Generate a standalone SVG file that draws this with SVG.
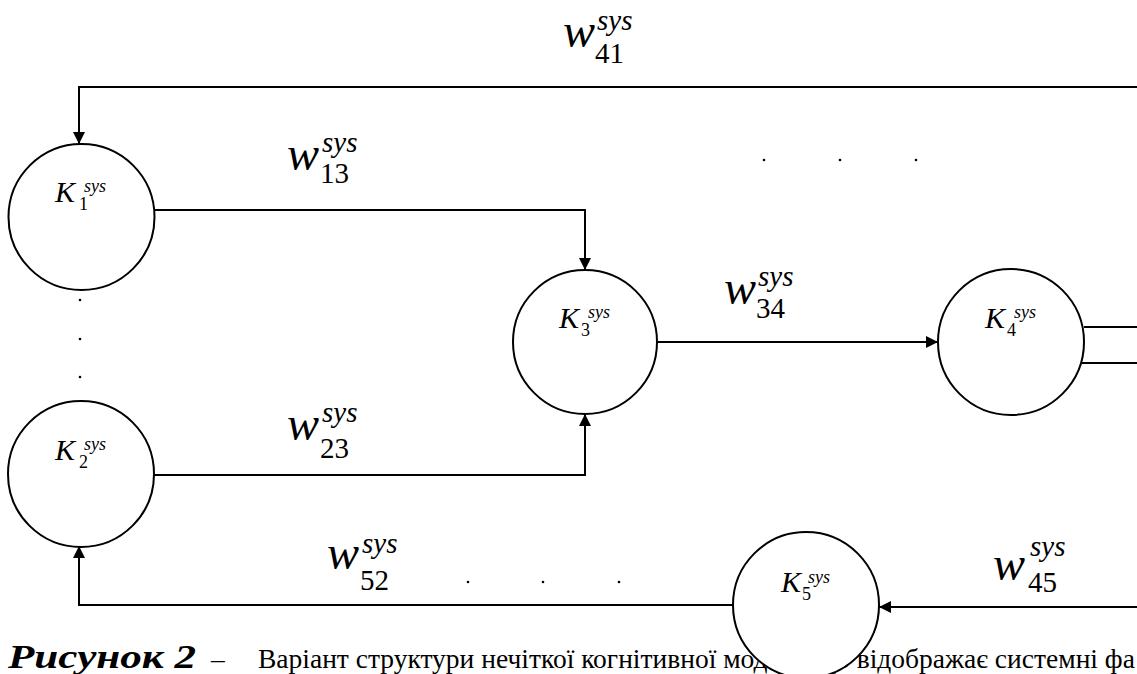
<svg xmlns="http://www.w3.org/2000/svg" width="1137" height="674" viewBox="0 0 1137 674">
<style>
text{font-family:'Liberation Serif',Tinos,'Times New Roman',Times,'DejaVu Serif',serif}
.ln{fill:none;stroke:#000;stroke-width:2}
.nd{fill:#fff;stroke:#000;stroke-width:2}
.K{font-style:italic;font-size:30px}
.ks{font-style:italic;font-size:18px}
.kb{font-size:18px}
.w{font-style:italic;font-size:48px}
.ws{font-style:italic;font-size:29px}
.wb{font-size:29px}
.cap{font-size:27.5px}
.capb{font-size:33px;font-weight:bold;font-style:italic}
.dot{fill:#000}
</style>
<defs>
<marker id="ah" markerWidth="12" markerHeight="12" refX="12" refY="6" orient="auto" markerUnits="userSpaceOnUse">
<path d="M0,0 L12,6 L0,12 z" fill="#000"/>
</marker>
</defs>
<rect width="1137" height="674" fill="#fff"/>
<g id="caption">
<text class="capb" x="8" y="668" textLength="188" lengthAdjust="spacingAndGlyphs">Рисунок 2</text>
<text class="cap" x="211" y="668">–</text>
<text class="cap" x="258" y="668">Варіант структури нечіткої когнітивної моделі, що відображає системні фа</text>
</g>
<g id="connectors">
<polyline class="ln" points="1137,87 79,87 79,144" marker-end="url(#ah)"/>
<polyline class="ln" points="155,210 585,210 585,270" marker-end="url(#ah)"/>
<polyline class="ln" points="154,475 585,475 585,414" marker-end="url(#ah)"/>
<line class="ln" x1="657" y1="342" x2="938" y2="342" marker-end="url(#ah)"/>
<line class="ln" x1="1084" y1="327" x2="1137" y2="327"/>
<line class="ln" x1="1082" y1="363" x2="1137" y2="363"/>
<line class="ln" x1="1137" y1="607" x2="879" y2="607" marker-end="url(#ah)"/>
<polyline class="ln" points="733,605 79,605 79,546" marker-end="url(#ah)"/>
</g>
<g id="labels">
<text x="563" y="47" class="w">w</text><text x="597" y="30" class="ws">sys</text><text x="595" y="63" class="wb">41</text>
<text x="287" y="170" class="w">w</text><text x="322" y="152" class="ws">sys</text><text x="320" y="183" class="wb">13</text>
<text x="724" y="304" class="w">w</text><text x="758" y="286" class="ws">sys</text><text x="756" y="318" class="wb">34</text>
<text x="287" y="440" class="w">w</text><text x="322" y="422" class="ws">sys</text><text x="320" y="458" class="wb">23</text>
<text x="327" y="569" class="w">w</text><text x="362" y="553" class="ws">sys</text><text x="360" y="590" class="wb">52</text>
<text x="993" y="580" class="w">w</text><text x="1030" y="556" class="ws">sys</text><text x="1028" y="592" class="wb">45</text>
</g>
<g id="dots">
<circle class="dot" cx="764" cy="160" r="1.3"/><circle class="dot" cx="840" cy="160" r="1.3"/><circle class="dot" cx="916" cy="160" r="1.3"/>
<circle class="dot" cx="468" cy="582" r="1.3"/><circle class="dot" cx="543" cy="582" r="1.3"/><circle class="dot" cx="619" cy="582" r="1.3"/>
<circle class="dot" cx="80" cy="300" r="1.3"/><circle class="dot" cx="80" cy="339" r="1.3"/><circle class="dot" cx="80" cy="377" r="1.3"/>
</g>
<g id="K1"><circle class="nd" cx="81.5" cy="217" r="73"/><text x="55" y="202" class="K">K</text><text x="84" y="192" class="ks">sys</text><text x="79" y="210" class="kb">1</text></g>
<g id="K2"><circle class="nd" cx="81" cy="474" r="73"/><text x="55" y="460" class="K">K</text><text x="84" y="450" class="ks">sys</text><text x="79" y="468" class="kb">2</text></g>
<g id="K3"><circle class="nd" cx="585" cy="342" r="72"/><text x="559" y="328" class="K">K</text><text x="588" y="318" class="ks">sys</text><text x="581" y="336" class="kb">3</text></g>
<g id="K4"><circle class="nd" cx="1011" cy="342" r="73"/><text x="985" y="328" class="K">K</text><text x="1014" y="318" class="ks">sys</text><text x="1007" y="336" class="kb">4</text></g>
<g id="K5"><circle class="nd" cx="806" cy="605" r="73"/><text x="781" y="592" class="K">K</text><text x="808" y="583" class="ks">sys</text><text x="802" y="600" class="kb">5</text></g>
</svg>
